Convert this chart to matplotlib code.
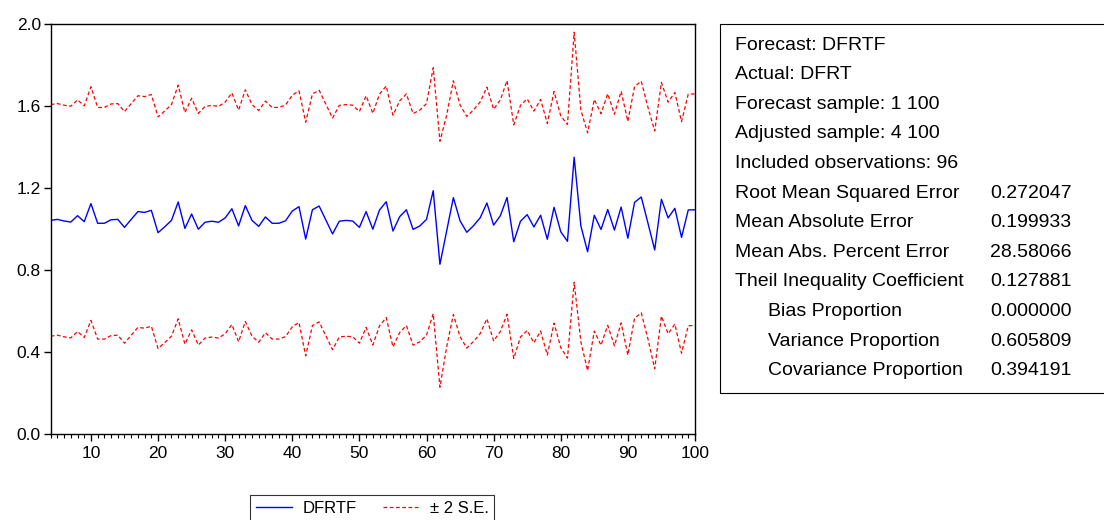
import numpy as np
import matplotlib
matplotlib.use("Agg")
import matplotlib.pyplot as plt
from matplotlib.patches import Rectangle
from matplotlib.ticker import MultipleLocator

plt.rcParams['font.family'] = ['Liberation Sans', 'DejaVu Sans']

# forecast sample (adjusted) 4..100
obs = list(range(4, 101))

# DFRTF forecast values
dfrtf = [1.042, 1.047, 1.039, 1.034, 1.065, 1.036, 1.124, 1.028, 1.028, 1.045,
         1.047, 1.008, 1.047, 1.085, 1.081, 1.091, 0.982, 1.011, 1.042, 1.132,
         1.003, 1.073, 0.999, 1.033, 1.038, 1.033, 1.054, 1.099, 1.015, 1.114,
         1.042, 1.013, 1.059, 1.028, 1.028, 1.040, 1.088, 1.109, 0.951, 1.094,
         1.112, 1.044, 0.976, 1.038, 1.042, 1.039, 1.008, 1.085, 0.999, 1.093,
         1.133, 0.990, 1.060, 1.094, 0.998, 1.015, 1.047, 1.187, 0.828, 0.990,
         1.153, 1.040, 0.984, 1.016, 1.055, 1.127, 1.019, 1.065, 1.154, 0.938,
         1.038, 1.070, 1.010, 1.067, 0.950, 1.106, 0.987, 0.940, 1.350, 1.015,
         0.889, 1.067, 0.998, 1.095, 0.995, 1.107, 0.955, 1.130, 1.156, 1.028,
         0.898, 1.145, 1.054, 1.101, 0.959, 1.093, 1.094]

# two standard errors for each point
two_se = [0.565, 0.565, 0.565, 0.565, 0.565, 0.565, 0.570, 0.565, 0.565, 0.565,
          0.565, 0.565, 0.565, 0.565, 0.565, 0.565, 0.565, 0.565, 0.565, 0.570,
          0.565, 0.565, 0.565, 0.565, 0.565, 0.565, 0.565, 0.565, 0.565, 0.565,
          0.565, 0.565, 0.565, 0.565, 0.565, 0.565, 0.565, 0.565, 0.570, 0.565,
          0.565, 0.565, 0.565, 0.565, 0.565, 0.565, 0.565, 0.565, 0.565, 0.565,
          0.565, 0.565, 0.565, 0.565, 0.565, 0.565, 0.565, 0.600, 0.600, 0.565,
          0.570, 0.565, 0.565, 0.565, 0.565, 0.565, 0.565, 0.565, 0.570, 0.570,
          0.565, 0.565, 0.565, 0.565, 0.565, 0.565, 0.565, 0.570, 0.610, 0.565,
          0.580, 0.565, 0.565, 0.565, 0.565, 0.565, 0.570, 0.565, 0.565, 0.565,
          0.580, 0.570, 0.565, 0.565, 0.565, 0.565, 0.565]

stat_labels = ["Forecast: DFRTF", "Actual: DFRT", "Forecast sample: 1 100",
               "Adjusted sample: 4 100", "Included observations: 96",
               "Root Mean Squared Error", "Mean Absolute Error",
               "Mean Abs. Percent Error", "Theil Inequality Coefficient",
               "Bias Proportion", "Variance Proportion", "Covariance Proportion"]
stat_values = ["", "", "", "", "", "0.272047", "0.199933", "28.58066",
               "0.127881", "0.000000", "0.605809", "0.394191"]
indented = [False] * 9 + [True] * 3

f = np.array(dfrtf)
s = np.array(two_se)

fig = plt.figure(figsize=(11.04, 5.2), dpi=100)
ax = fig.add_axes([0.0459, 0.1654, 0.5836, 0.7884])

ax.plot(obs, f, color='#0000ff', lw=1.0, label='DFRTF')
ax.plot(obs, f + s, color='#ff0000', lw=0.9, ls=(0, (3, 2)), label='± 2 S.E.')
ax.plot(obs, f - s, color='#ff0000', lw=0.9, ls=(0, (3, 2)))

ax.set_xlim(4, 100)
ax.set_ylim(0, 2.0)
ax.set_yticks([0.0, 0.4, 0.8, 1.2, 1.6, 2.0])
ax.set_yticklabels(['0.0', '0.4', '0.8', '1.2', '1.6', '2.0'])
ax.set_xticks(range(10, 101, 10))
ax.xaxis.set_minor_locator(MultipleLocator(1))
ax.tick_params(axis='x', which='major', direction='out', length=5, width=1, labelsize=12.5, pad=4)
ax.tick_params(axis='x', which='minor', direction='out', length=3, width=0.8)
ax.tick_params(axis='y', which='major', direction='out', length=5, width=1, labelsize=12.5, pad=2)
for sp in ax.spines.values():
    sp.set_linewidth(1.0)

leg = fig.legend(loc='upper center', bbox_to_anchor=(372 / 1104, 1 - 487 / 520), ncol=2,
                 fontsize=12, frameon=True, fancybox=False, edgecolor='black',
                 handlelength=2.2, handletextpad=0.6, columnspacing=1.6, borderpad=0.35)
leg.get_frame().set_linewidth(0.8)

# statistics box
fig.patches.append(Rectangle((720 / 1104, 1 - 393 / 520), 400 / 1104, 369 / 520,
                             transform=fig.transFigure, fill=False,
                             edgecolor='black', lw=0.8, clip_on=False))
y0 = 45
for i, lab in enumerate(stat_labels):
    yy = 1 - (y0 + i * 29.6) / 520
    xx = 768 if indented[i] else 735
    fig.text(xx / 1104, yy, lab, fontsize=14, va='center', ha='left')
    if stat_values[i]:
        fig.text(990 / 1104, yy, stat_values[i], fontsize=14, va='center', ha='left')

fig.savefig('out.png', dpi=100)
